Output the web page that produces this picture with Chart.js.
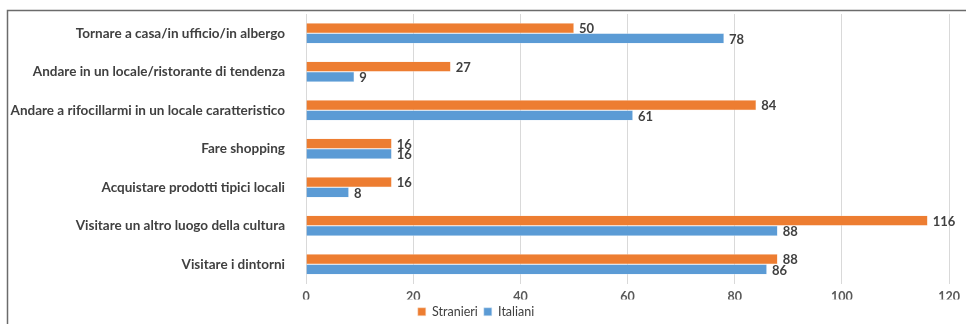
<!DOCTYPE html>
<html>
<head>
<meta charset="utf-8">
<script src="https://cdn.jsdelivr.net/npm/chart.js@4"></script>
<style>
  html, body { margin: 0; padding: 0; background: #fff; }
  #wrap { position: relative; width: 966px; height: 324px; }
</style>
</head>
<body>
<div id="wrap"><canvas id="chart" width="966" height="324"></canvas></div>
<script>
// ─── Data ───────────────────────────────────────────────────────
const categories = [
  "Tornare a casa/in ufficio/in albergo",
  "Andare in un locale/ristorante di tendenza",
  "Andare a rifocillarmi in un locale caratteristico",
  "Fare shopping",
  "Acquistare prodotti tipici locali",
  "Visitare un altro luogo della cultura",
  "Visitare i dintorni"
];
const stranieri = [50, 27, 84, 16, 16, 116, 88];
const italiani  = [78, 9, 61, 16, 8, 88, 86];
const xTicks = [0, 20, 40, 60, 80, 100, 120];

const FONT = "Lato, 'Open Sans', sans-serif";
const TEXT = "#404040";

// value labels at the end of each bar
const valueLabels = {
  id: "valueLabels",
  afterDatasetsDraw(chart) {
    const ctx = chart.ctx;
    ctx.save();
    ctx.font = "bold 13px " + FONT;
    ctx.fillStyle = TEXT;
    ctx.textBaseline = "middle";
    ctx.textAlign = "left";
    chart.data.datasets.forEach((ds, i) => {
      chart.getDatasetMeta(i).data.forEach((bar, j) => {
        ctx.fillText(ds.data[j], bar.x + 5, bar.y + 1);
      });
    });
    ctx.restore();
  }
};

// outer frame (only left and top edges are in view)
const frame = {
  id: "frame",
  afterDraw(chart) {
    const ctx = chart.ctx;
    ctx.save();
    ctx.strokeStyle = "#6b6b6b";
    ctx.lineWidth = 1.5;
    ctx.beginPath();
    ctx.moveTo(7.5, 324);
    ctx.lineTo(7.5, 10.5);
    ctx.lineTo(966, 10.5);
    ctx.stroke();
    ctx.restore();
  }
};

new Chart(document.getElementById("chart").getContext("2d"), {
  type: "bar",
  data: {
    labels: categories,
    datasets: [
      { label: "Stranieri", data: stranieri, backgroundColor: "#ED7D31", borderColor: "#fbe0cc", borderWidth: 0.5 },
      { label: "Italiani",  data: italiani,  backgroundColor: "#5B9BD5", borderColor: "#d6e6f5", borderWidth: 0.5 }
    ]
  },
  options: {
    indexAxis: "y",
    responsive: false,
    animation: false,
    categoryPercentage: 0.53,
    barPercentage: 1,
    layout: { padding: { top: 14, right: 14, bottom: -4, left: 0 } },
    plugins: {
      legend: {
        position: "bottom",
        labels: {
          boxWidth: 8, boxHeight: 8, padding: 6,
          color: TEXT,
          font: { family: FONT, size: 12.5 }
        }
      },
      tooltip: { enabled: false }
    },
    scales: {
      x: {
        min: 0, max: 120,
        afterBuildTicks: (s) => { s.ticks = xTicks.map(v => ({ value: v })); },
        afterFit: (s) => { s.height = 16; },
        grid: { color: "#d9d9d9", drawTicks: false },
        border: { display: false },
        ticks: { color: "#595959", padding: 6, font: { family: FONT, size: 12.5, weight: "bold" } }
      },
      y: {
        afterFit: (s) => { s.width = 306; s.paddingTop = 0; s.paddingBottom = 0; },
        grid: { display: false },
        border: { display: false },
        ticks: { color: TEXT, padding: 13, font: { family: FONT, size: 13.5, weight: "bold" } }
      }
    }
  },
  plugins: [valueLabels, frame]
});
</script>
</body>
</html>
